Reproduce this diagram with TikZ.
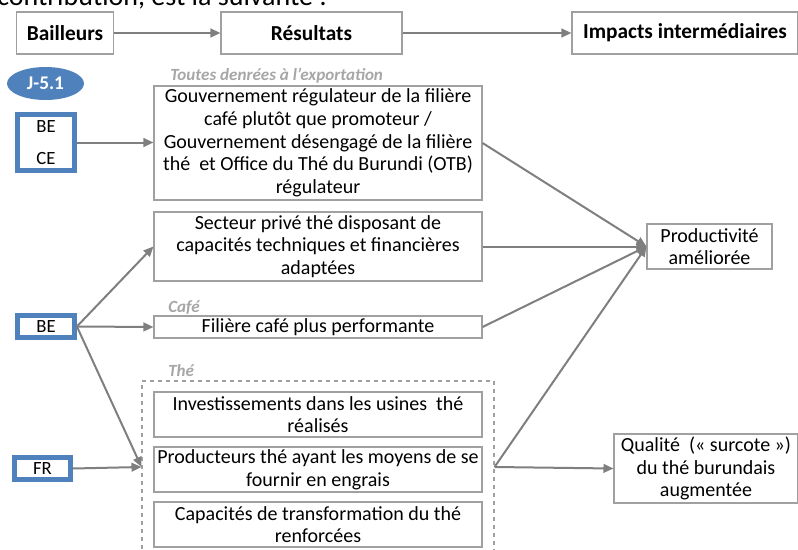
\documentclass[tikz,border=0pt]{standalone}
\usepackage{fontspec}
\setmainfont{Carlito}
\usepackage{tikz}
\usetikzlibrary{arrows.meta,shapes.geometric}
\definecolor{donorblue}{HTML}{4F81BD}
\definecolor{linkgray}{HTML}{7F7F7F}
\definecolor{framegray}{HTML}{A0A0A0}
\definecolor{taggray}{HTML}{A6A6A6}
\tikzset{box/.style={rectangle, draw=framegray, line width=0.8pt, fill=white, align=center, inner sep=0pt, font=\fontsize{15}{17}\selectfont},
head/.style={box, font=\fontsize{16}{18}\selectfont\bfseries, minimum height=31.5pt},
donor/.style={rectangle, draw=donorblue, line width=3.6pt, fill=white, align=center, inner sep=0pt, minimum width=42.75pt, minimum height=16.5pt, font=\fontsize{14}{16}\selectfont},
tag/.style={anchor=base west, inner sep=0pt, text=taggray, font=\fontsize{12.8}{14}\selectfont\bfseries\itshape},
link/.style={draw=linkgray, line width=1.5pt, -{Triangle[length=7.5pt,width=6.5pt]}}}

\begin{document}
\begin{tikzpicture}[x=0.75pt,y=-0.75pt]
\useasboundingbox (0,0) rectangle (798,549);
\node[anchor=base west, inner sep=0pt, font=\fontsize{21}{24}\selectfont] (intro) at (-3,6) {contribution, est la suivante :};
% en-tetes
\node[head, minimum width=72.75pt] (bail) at (65,33) {Bailleurs};
\node[head, minimum width=135.75pt] (res) at (311.5,33) {Résultats};
\node[head, minimum width=169.5pt] (imp) at (685,33) {Impacts intermédiaires};
\draw[link] (bail) -- (res);
\draw[link] (res) -- (imp);
% bailleurs
\node[ellipse, fill=donorblue, text=white, inner sep=0pt, minimum width=57.75pt, minimum height=24.75pt, font=\fontsize{14.5}{16}\selectfont\bfseries] (jcode) at (45.5,83.5) {J-5.1};
\node[donor, minimum height=42pt] (becf) at (46,142.5) {BE\\[8pt]CE};
\node[donor] (be) at (46,326.5) {BE};
\node[donor, minimum width=42pt] (fr) at (42.5,468.5) {FR};
% resultats
\node[tag] (tall) at (170,81) {Toutes denrées à l’exportation};
\node[box, minimum width=246pt, minimum height=85.5pt] (gouv) at (318,143) {Gouvernement régulateur de la filière\\ café plutôt que promoteur /\\ Gouvernement désengagé de la filière\\ thé~ et Office du Thé du Burundi (OTB)\\ régulateur};
\node[box, minimum width=246pt, minimum height=51.75pt] (priv) at (318,246.5) {Secteur privé thé disposant de\\ capacités techniques et financières\\ adaptées};
\node[tag] (tcafe) at (168,312) {Café};
\node[box, minimum width=246pt, minimum height=16.5pt] (cafe) at (318,327) {Filière café plus performante};
\node[tag] (tthe) at (168,376) {Thé};
\node[rectangle, draw=framegray, dashed, line width=0.8pt, minimum width=264pt, minimum height=129pt] (the) at (318,467) {};
\node[box, minimum width=246pt, minimum height=33.75pt] (usine) at (318,414.5) {Investissements dans les usines~ thé\\ réalisés};
\node[box, minimum width=246pt, minimum height=33.75pt] (engr) at (318,469.5) {Producteurs thé ayant les moyens de se\\ fournir en engrais};
\node[box, minimum width=246pt, minimum height=33.75pt] (transf) at (318,524.5) {Capacités de transformation du thé\\ renforcées};
% impacts
\node[box, minimum width=93.75pt, minimum height=33.75pt] (prod) at (709.5,246.5) {Productivité\\ améliorée};
\node[box, minimum width=138pt, minimum height=51.75pt] (qual) at (706,468.5) {Qualité~ («~surcote~»)\\ du thé burundais\\ augmentée};
% liens
\draw[link] (becf.east) -- (gouv.west |- becf.east);
\draw[link] (be.east) -- (priv.west);
\draw[link] (be.east) -- (cafe.west);
\draw[link] (be.east) -- (the.west);
\draw[link] (fr.east) -- (the.west);
\draw[link] (gouv.east) -- (prod.west);
\draw[link] (priv.east) -- (prod.west);
\draw[link] (cafe.east) -- (prod.west);
\draw[link] (the.east) -- (prod.west);
\draw[link] (the.east) -- (qual.west);
\end{tikzpicture}
\end{document}
